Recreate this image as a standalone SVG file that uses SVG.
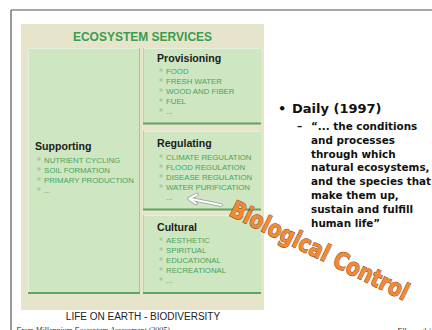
<svg xmlns="http://www.w3.org/2000/svg" width="432" height="330" viewBox="0 0 432 330">
<style>
.panel{fill:#cfe6c2;}
.edge{stroke:#5fa463;stroke-width:2;}
.hl{stroke:#e4f1dc;stroke-width:1;}
.ptitle{font-family:"Liberation Sans",Arial,sans-serif;font-weight:bold;font-size:10.6px;fill:#1c1c1c;}
.item{font-family:"Liberation Sans",Arial,sans-serif;font-size:7.8px;fill:#45a55b;}
.bul{fill:#a9c9a2;}
.quote{font-family:"DejaVu Sans",Verdana,sans-serif;font-weight:bold;font-size:10.4px;fill:#111;}
</style>
<rect x="0" y="0" width="432" height="330" fill="#ffffff"/>
<line x1="11" y1="10" x2="432" y2="10" stroke="#8a8a8a" stroke-width="1.5"/>
<line x1="11" y1="10" x2="11" y2="330" stroke="#555" stroke-width="1.2"/>

<g id="ecosystem-services">
<rect x="21" y="24" width="243" height="286" fill="#e7e4cc"/>
<text x="142.5" y="41" text-anchor="middle" font-family="Liberation Sans, Arial, sans-serif" font-weight="bold" font-size="12px" fill="#3a9c4e">ECOSYSTEM SERVICES</text>
</g>

<g id="supporting">
<rect class="panel" x="28" y="48" width="112" height="246"/>
<line class="hl" x1="28.5" y1="48.5" x2="139" y2="48.5"/>
<line class="hl" x1="28.5" y1="48.5" x2="28.5" y2="293"/>
<line x1="139.5" y1="48" x2="139.5" y2="294" stroke="#9fc89b" stroke-width="1"/>
<line class="edge" x1="28" y1="293" x2="140" y2="293"/>
<text class="ptitle" x="35" y="150">Supporting</text>
<rect class="bul" x="37.5" y="157.5" width="3" height="3"/><text class="item" x="44" y="163">NUTRIENT CYCLING</text>
<rect class="bul" x="37.5" y="167.5" width="3" height="3"/><text class="item" x="44" y="173">SOIL FORMATION</text>
<rect class="bul" x="37.5" y="177.5" width="3" height="3"/><text class="item" x="44" y="183">PRIMARY PRODUCTION</text>
<rect class="bul" x="37.5" y="187.5" width="3" height="3"/><text class="item" x="44" y="193">...</text>
</g>

<g id="provisioning">
<rect class="panel" x="143" y="48" width="118" height="76"/>
<line class="hl" x1="143.5" y1="48.5" x2="260" y2="48.5"/>
<line x1="143.5" y1="48" x2="143.5" y2="124" stroke="#b7d6b0" stroke-width="1"/>
<line class="edge" x1="143" y1="123.5" x2="261" y2="123.5"/>
<text class="ptitle" x="157" y="62">Provisioning</text>
<rect class="bul" x="159.5" y="68.5" width="3" height="3"/><text class="item" x="166" y="74">FOOD</text>
<rect class="bul" x="159.5" y="78.5" width="3" height="3"/><text class="item" x="166" y="84">FRESH WATER</text>
<rect class="bul" x="159.5" y="88.5" width="3" height="3"/><text class="item" x="166" y="94">WOOD AND FIBER</text>
<rect class="bul" x="159.5" y="98.5" width="3" height="3"/><text class="item" x="166" y="104">FUEL</text>
<rect class="bul" x="159.5" y="108.5" width="3" height="3"/><text class="item" x="166" y="114">...</text>
</g>

<g id="regulating">
<rect class="panel" x="143" y="131" width="118" height="79"/>
<line class="hl" x1="143.5" y1="131.5" x2="260" y2="131.5"/>
<line x1="143.5" y1="131" x2="143.5" y2="210" stroke="#b7d6b0" stroke-width="1"/>
<line class="edge" x1="143" y1="209.5" x2="261" y2="209.5"/>
<text class="ptitle" x="157" y="147">Regulating</text>
<rect class="bul" x="159.5" y="154.5" width="3" height="3"/><text class="item" x="166" y="160">CLIMATE REGULATION</text>
<rect class="bul" x="159.5" y="164.5" width="3" height="3"/><text class="item" x="166" y="170">FLOOD REGULATION</text>
<rect class="bul" x="159.5" y="174.5" width="3" height="3"/><text class="item" x="166" y="180">DISEASE REGULATION</text>
<rect class="bul" x="159.5" y="184.5" width="3" height="3"/><text class="item" x="166" y="190">WATER PURIFICATION</text>
<text class="item" x="166" y="200">...</text>
</g>

<g id="cultural">
<rect class="panel" x="143" y="215" width="118" height="79"/>
<line class="hl" x1="143.5" y1="215.5" x2="260" y2="215.5"/>
<line x1="143.5" y1="215" x2="143.5" y2="294" stroke="#b7d6b0" stroke-width="1"/>
<line class="edge" x1="143" y1="293" x2="261" y2="293"/>
<text class="ptitle" x="157" y="231">Cultural</text>
<rect class="bul" x="159.5" y="237.5" width="3" height="3"/><text class="item" x="166" y="243">AESTHETIC</text>
<rect class="bul" x="159.5" y="247.5" width="3" height="3"/><text class="item" x="166" y="253">SPIRITUAL</text>
<rect class="bul" x="159.5" y="257.5" width="3" height="3"/><text class="item" x="166" y="263">EDUCATIONAL</text>
<rect class="bul" x="159.5" y="267.5" width="3" height="3"/><text class="item" x="166" y="273">RECREATIONAL</text>
<rect class="bul" x="159.5" y="277.5" width="3" height="3"/><text class="item" x="166" y="283">...</text>
</g>

<g id="connectors">
<line x1="221" y1="205" x2="191" y2="199" stroke="#9a9a9a" stroke-width="3.6" stroke-linecap="round"/>
<polyline points="197,194.5 189,198.6 196,203.5" fill="none" stroke="#9a9a9a" stroke-width="3.6" stroke-linecap="round" stroke-linejoin="round"/>
<line x1="221" y1="205" x2="191" y2="199" stroke="#ffffff" stroke-width="2" stroke-linecap="round"/>
<polyline points="197,194.5 189,198.6 196,203.5" fill="none" stroke="#ffffff" stroke-width="2" stroke-linecap="round" stroke-linejoin="round"/>
</g>

<g id="biological-control">
<text transform="translate(228,215) rotate(26)" font-family="DejaVu Sans, Verdana, sans-serif" font-weight="bold" font-size="24px" textLength="196" lengthAdjust="spacingAndGlyphs" fill="#f08a34" stroke="#7a3c12" stroke-width="1" paint-order="stroke">Biological Control</text>
</g>

<g id="definition">
<text x="278" y="113" font-family="DejaVu Sans, Verdana, sans-serif" font-weight="bold" font-size="13px" fill="#111">•</text>
<text x="292" y="113" font-family="DejaVu Sans, Verdana, sans-serif" font-weight="bold" font-size="13px" fill="#111">Daily (1997)</text>
<text class="quote" x="297" y="130">–</text>
<text class="quote" x="311" y="130">“... the conditions</text>
<text class="quote" x="311" y="143.8">and processes</text>
<text class="quote" x="311" y="157.6">through which</text>
<text class="quote" x="311" y="171.4">natural ecosystems,</text>
<text class="quote" x="311" y="185.2">and the species that</text>
<text class="quote" x="311" y="199">make them up,</text>
<text class="quote" x="311" y="212.8">sustain and fulfill</text>
<text class="quote" x="311" y="226.6">human life”</text>
</g>

<g id="footer">
<text x="143" y="320" text-anchor="middle" font-family="Liberation Sans, Arial, sans-serif" font-size="10px" fill="#222">LIFE ON EARTH - BIODIVERSITY</text>
<text x="16" y="333" font-family="Liberation Serif, Times New Roman, serif" font-style="italic" font-size="8px" fill="#333">From Millennium Ecosystem Assessment (2005)</text>
<text x="397" y="334" font-family="Liberation Serif, Times New Roman, serif" font-style="italic" font-size="8px" fill="#333">Ellsworth/</text>
</g>
</svg>
